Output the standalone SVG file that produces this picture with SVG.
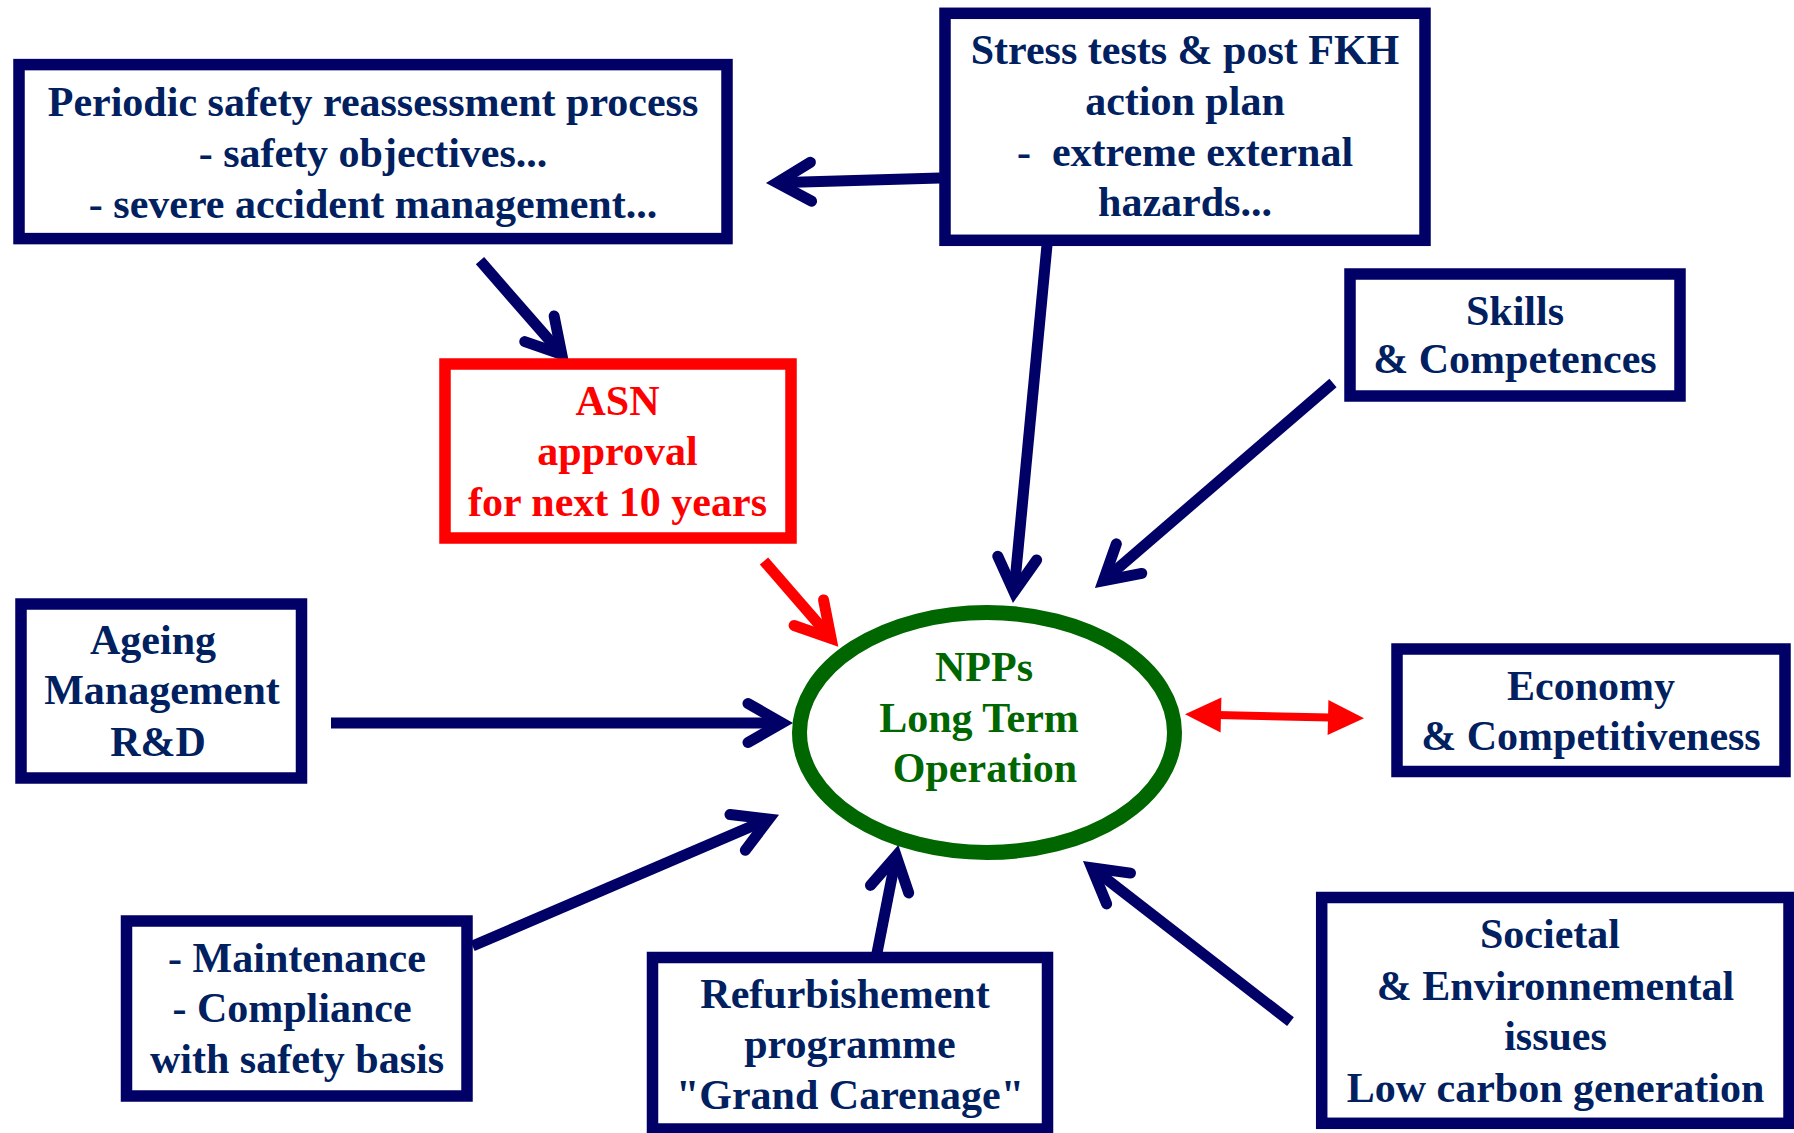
<svg xmlns="http://www.w3.org/2000/svg" width="1794" height="1133" viewBox="0 0 1794 1133">
<style>
.box{fill:#ffffff;stroke:#000066;stroke-width:11.5}
.rbox{fill:#ffffff;stroke:#ff0000;stroke-width:11.5}
.t{font-family:"Liberation Serif","Times New Roman",serif;font-weight:bold;font-size:42px;text-anchor:middle;fill:#002060}
.rt{fill:#ff0000}
.gt{fill:#006600}
.a{stroke:#000066;stroke-width:11;fill:none;marker-end:url(#chev)}
.ra{stroke:#ff0000;stroke-width:11;fill:none;marker-end:url(#rchev)}
</style>
<defs>
<marker id="chev" markerUnits="userSpaceOnUse" orient="auto" refX="0" refY="0" markerWidth="80" markerHeight="80" viewBox="-60 -40 80 80" overflow="visible">
<path d="M-34,-19.5 L0,0 L-34,19.5" fill="none" stroke="#000066" stroke-width="11" stroke-linecap="round" stroke-linejoin="miter" stroke-miterlimit="10"/>
</marker>
<marker id="rchev" markerUnits="userSpaceOnUse" orient="auto" refX="0" refY="0" markerWidth="80" markerHeight="80" viewBox="-60 -40 80 80" overflow="visible">
<path d="M-34,-19.5 L0,0 L-34,19.5" fill="none" stroke="#ff0000" stroke-width="11" stroke-linecap="round" stroke-linejoin="miter" stroke-miterlimit="10"/>
</marker>
<marker id="tri" markerUnits="userSpaceOnUse" orient="auto-start-reverse" refX="0" refY="0" markerWidth="80" markerHeight="80" viewBox="-40 -40 80 80" overflow="visible">
<path d="M-26,-17.5 L10,0 L-26,17.5 Z" fill="#ff0000"/>
</marker>
</defs>
<rect width="1794" height="1133" fill="#ffffff"/>

<g id="connectors">
<line class="a" x1="940" y1="178" x2="777" y2="182.7"/>
<line class="a" x1="480" y1="260.7" x2="561.8" y2="354.4"/>
<line class="a" x1="1047" y1="245" x2="1014" y2="592"/>
<line class="a" x1="1333" y1="383" x2="1103.3" y2="580.8"/>
<line class="ra" x1="764" y1="561" x2="831.1" y2="638.4"/>
<line class="a" x1="331" y1="723" x2="782" y2="723"/>
<line stroke="#ff0000" stroke-width="8" x1="1195" y1="714.5" x2="1354" y2="718.1" marker-start="url(#tri)" marker-end="url(#tri)"/>
<line class="a" x1="472.5" y1="946" x2="768.9" y2="819"/>
<line class="a" x1="877" y1="953" x2="896.2" y2="855.8"/>
<line class="a" x1="1290.5" y1="1021.7" x2="1091.7" y2="867.7"/>
</g>

<g id="node-periodic">
<rect class="box" x="19" y="64.6" width="708" height="174"/>
<text class="t" x="373" y="115.5">Periodic safety reassessment process</text>
<text class="t" x="373" y="166.5">- safety objectives...</text>
<text class="t" x="373" y="217.5">- severe accident management...</text>
</g>

<g id="node-stress">
<rect class="box" x="945" y="13.3" width="480" height="227"/>
<text class="t" x="1185" y="64.3">Stress tests &amp; post FKH</text>
<text class="t" x="1185" y="115">action plan</text>
<text class="t" x="1185" y="165.7" style="white-space:pre">-  extreme external</text>
<text class="t" x="1185" y="216">hazards...</text>
</g>

<g id="node-asn">
<rect class="rbox" x="445" y="364" width="346" height="174"/>
<text class="t rt" x="617.5" y="415">ASN</text>
<text class="t rt" x="617.5" y="465">approval</text>
<text class="t rt" x="617.5" y="515.7">for next 10 years</text>
</g>

<g id="node-skills">
<rect class="box" x="1350" y="274" width="330" height="122"/>
<text class="t" x="1515" y="325">Skills</text>
<text class="t" x="1515" y="373.3">&amp; Competences</text>
</g>

<g id="node-ageing">
<rect class="box" x="21" y="604" width="280.5" height="174"/>
<text class="t" x="153" y="654.3">Ageing</text>
<text class="t" x="162" y="704">Management</text>
<text class="t" x="158" y="755.7">R&amp;D</text>
</g>

<g id="node-npp">
<ellipse cx="987" cy="732.5" rx="187.5" ry="120" fill="#ffffff" stroke="#006600" stroke-width="15"/>
<text class="t gt" x="984" y="680.7">NPPs</text>
<text class="t gt" x="979" y="731.7">Long Term</text>
<text class="t gt" x="985" y="781.7">Operation</text>
</g>

<g id="node-economy">
<rect class="box" x="1397" y="649" width="388" height="122.5"/>
<text class="t" x="1591" y="700">Economy</text>
<text class="t" x="1591" y="750">&amp; Competitiveness</text>
</g>

<g id="node-maintenance">
<rect class="box" x="126.5" y="921" width="340.5" height="175"/>
<text class="t" x="297" y="971.7">- Maintenance</text>
<text class="t" x="292" y="1021.7">- Compliance</text>
<text class="t" x="297" y="1073.3">with safety basis</text>
</g>

<g id="node-refurb">
<rect class="box" x="652.5" y="957.5" width="395" height="171.5"/>
<text class="t" x="845" y="1008.3">Refurbishement</text>
<text class="t" x="850" y="1058.3">programme</text>
<text class="t" x="850" y="1109.3">"Grand Carenage"</text>
</g>

<g id="node-societal">
<rect class="box" x="1321.7" y="897.5" width="467.3" height="225.8"/>
<text class="t" x="1550" y="948.3">Societal</text>
<text class="t" x="1555.5" y="1000">&amp; Environnemental</text>
<text class="t" x="1555.5" y="1050">issues</text>
<text class="t" x="1555.5" y="1101.7">Low carbon generation</text>
</g>
</svg>
